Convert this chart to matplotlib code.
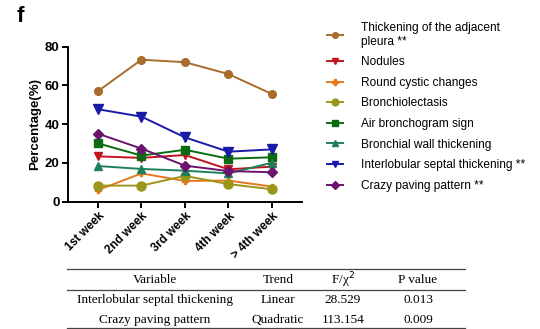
import matplotlib.pyplot as plt
from matplotlib.lines import Line2D

weeks = ['1st week', '2nd week', '3rd week', '4th week', '> 4th week']

pleura = [57.1, 73.3, 72.0, 65.9, 55.6]
nodules = [23.4, 22.6, 24.1, 16.7, 18.1]
round_cystic = [6.0, 14.6, 10.7, 10.9, 7.8]
bronchiolectasis = [8.3, 8.3, 13.3, 9.1, 6.4]
air_bronchogram = [30.1, 23.8, 26.8, 22.2, 22.9]
bronchial_wall = [18.4, 16.9, 16.0, 14.6, 20.1]
interlobular = [47.7, 43.9, 33.2, 25.8, 27.0]
crazy_paving = [35.1, 27.4, 18.6, 15.8, 15.2]

labels = ['Thickening of the adjacent\npleura **', 'Nodules', 'Round cystic changes',
          'Bronchiolectasis', 'Air bronchogram sign', 'Bronchial wall thickening',
          'Interlobular septal thickening **', 'Crazy paving pattern **']
colors = ['#a86c2c', '#c0141e', '#e8781e', '#9a961a', '#0b6b12', '#1d7f5c', '#1a1aa8', '#6a146e']
markers = ['o', 'v', 'P', 'o', 's', '^', 'v', 'D']
msizes = [5.5, 5.5, 5, 6.5, 6, 6, 6.5, 5.5]
series = [pleura, nodules, round_cystic, bronchiolectasis, air_bronchogram,
          bronchial_wall, interlobular, crazy_paving]

# table contents
tab_header = ['Variable', 'Trend', 'F/\u03c7$^2$', 'P value']
tab_rows = [['Interlobular septal thickening', 'Linear', '28.529', '0.013'],
            ['Crazy paving pattern', 'Quadratic', '113.154', '0.009']]

plt.rcParams['font.family'] = ['Liberation Sans', 'DejaVu Sans']

fig = plt.figure(figsize=(5.4, 3.29), dpi=100)
ax = fig.add_axes([0.126, 0.387, 0.433, 0.471])

x = list(range(len(weeks)))
handles = []
for vals, c, m, ms, lab in zip(series, colors, markers, msizes, labels):
    ax.plot(x, vals, color=c, marker=m, markersize=ms, lw=1.4, clip_on=False)
    handles.append(Line2D([], [], color=c, marker=m, markersize=ms * 0.75, lw=1.4, label=lab))

ax.set_xlim(-0.69, 4.69)
ax.set_ylim(0, 80)
ax.set_yticks([0, 20, 40, 60, 80])
ax.set_xticks(x)
ax.set_xticklabels(weeks, rotation=45, ha='right', rotation_mode='anchor',
                   fontsize=8.5, fontweight='bold')
for t in ax.get_yticklabels():
    t.set_fontsize(9.5)
    t.set_fontweight('bold')
ax.set_ylabel('Percentage(%)', fontsize=9.5, fontweight='bold', labelpad=3)
ax.spines['top'].set_visible(False)
ax.spines['right'].set_visible(False)
for s in ['left', 'bottom']:
    ax.spines[s].set_linewidth(1.4)
ax.tick_params(width=1.4, length=4, pad=2)

fig.text(0.03, 0.95, 'f', fontsize=16, fontweight='bold', va='center')

fig.legend(handles=handles, loc='upper left', bbox_to_anchor=(0.605, 0.934),
           frameon=False, fontsize=8.6, handlelength=1.4, handletextpad=1.5,
           labelspacing=0.72, borderpad=0.0, borderaxespad=0.0)

# table below the chart
serif = ['Liberation Serif', 'DejaVu Serif']
col_x = [155, 278, 343, 418]
row_y = [280, 300, 320]
for i, h in enumerate(tab_header):
    fig.text(col_x[i] / 540, 1 - row_y[0] / 329, h, family=serif, fontsize=9.5,
             ha='center', va='center')
for r, row in enumerate(tab_rows):
    for i, v in enumerate(row):
        fig.text(col_x[i] / 540, 1 - row_y[r + 1] / 329, v, family=serif, fontsize=9.5,
                 ha='center', va='center')
for yl in [269, 290, 328]:
    fig.add_artist(Line2D([67 / 540, 465 / 540], [1 - yl / 329, 1 - yl / 329],
                          color='#444444', lw=0.9))

fig.savefig('out.png', dpi=100)
